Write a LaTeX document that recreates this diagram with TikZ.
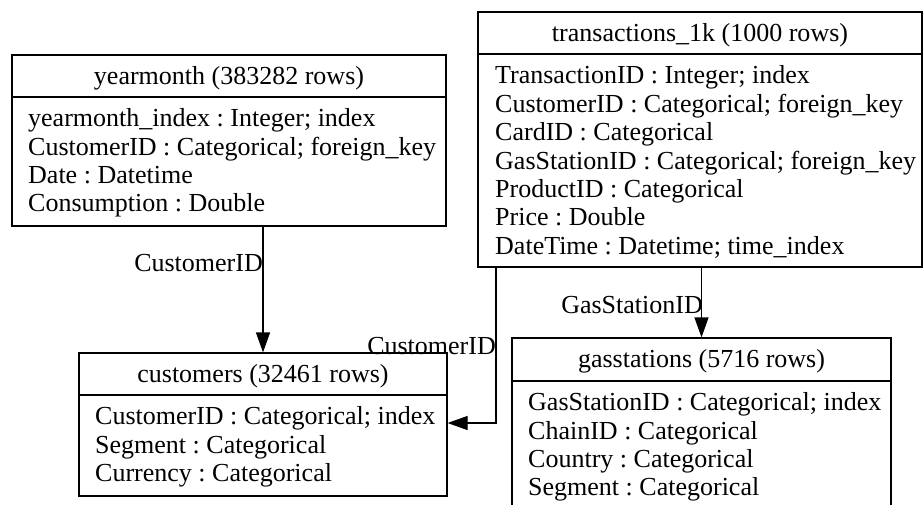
\documentclass[tikz,border=0pt]{standalone}
\usepackage{fontspec}
\setmainfont{Liberation Serif}
\usetikzlibrary{arrows.meta}
\frenchspacing
\begin{document}
\begin{tikzpicture}[x=1pt,y=-1pt,
  every node/.style={font=\fontsize{26}{28.4}\selectfont},
  cell/.style={draw, line width=1.2pt, inner sep=0pt},
  head/.style={cell, text depth=2pt},
  fields/.style={anchor=west, align=left, inner sep=0pt},
  lbl/.style={inner sep=0pt, anchor=east},
  fk/.style={line width=1.2pt, -{Triangle[length=20pt,width=14pt]}}
]
\useasboundingbox (0,0) rectangle (923,504);
\clip (0,0) rectangle (923,504);
\fill[white] (0,0) rectangle (923,504);

% yearmonth table
\node[head, minimum width=434pt, minimum height=42pt] (ymT) at (229,76) {yearmonth (383282 rows)};
\node[cell, minimum width=434pt, minimum height=129pt] (ymB) at (229,161.5) {};
\node[fields] (ymF) at (28,163) {yearmonth\_index : Integer; index\\CustomerID : Categorical; foreign\_key\\Date : Datetime\\Consumption : Double};

% transactions table
\node[head, minimum width=444pt, minimum height=42pt] (trT) at (700,33) {transactions\_1k (1000 rows)};
\node[cell, minimum width=444pt, minimum height=213pt] (trB) at (700,160.5) {};
\node[fields] (trF) at (495,162) {TransactionID : Integer; index\\CustomerID : Categorical; foreign\_key\\CardID : Categorical\\GasStationID : Categorical; foreign\_key\\ProductID : Categorical\\Price : Double\\DateTime : Datetime; time\_index};

% customers table
\node[head, minimum width=368pt, minimum height=42pt] (cuT) at (263,374) {customers (32461 rows)};
\node[cell, minimum width=368pt, minimum height=101pt] (cuB) at (263,445.5) {};
\node[fields] (cuF) at (95,447) {CustomerID : Categorical; index\\Segment : Categorical\\Currency : Categorical};

% gasstations table
\node[head, minimum width=379pt, minimum height=43pt] (gsT) at (701.5,359.5) {gasstations (5716 rows)};
\node[cell, minimum width=379pt, minimum height=129pt] (gsB) at (701.5,445.5) {};
\node[fields] (gsF) at (528,447) {GasStationID : Categorical; index\\ChainID : Categorical\\Country : Categorical\\Segment : Categorical};

% relationships
\coordinate (bend) at (496,423);
\draw[fk] (cuT.north |- ymB.south) -- (cuT.north);
\draw[fk] (trB.south -| bend) |- (cuB.east |- bend);
\draw[fk] (gsT.north |- trB.south) -- (gsT.north);

\node[lbl] (l1) at (263,263) {CustomerID};
\node[lbl] (l2) at (496,346) {CustomerID};
\node[lbl] (l3) at (703,305) {GasStationID};
\end{tikzpicture}
\end{document}
